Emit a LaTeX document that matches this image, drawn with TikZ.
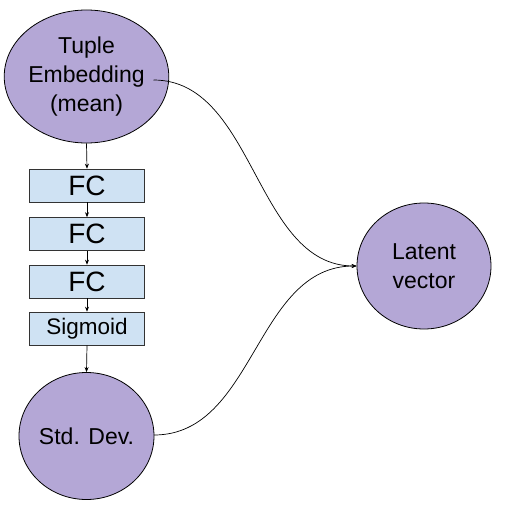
\documentclass[tikz,border=0pt]{standalone}
\usepackage{fontspec}
\setmainfont{Liberation Sans}
\usetikzlibrary{shapes.geometric,arrows.meta}
\definecolor{purp}{HTML}{B4A7D6}
\definecolor{lblue}{HTML}{CFE2F3}
\begin{document}
\begin{tikzpicture}[x=1pt,y=-1pt,
  blob/.style={ellipse,draw=black,line width=0.8pt,fill=purp,inner sep=0pt,align=center,font=\fontsize{23}{29}\selectfont},
  layer/.style={rectangle,draw=black!80,line width=0.6pt,fill=lblue,minimum width=115pt,minimum height=33pt,inner sep=0pt},
  arr/.style={-{Stealth[length=5pt,width=4pt]},line width=0.7pt}
]
\useasboundingbox (0,0) rectangle (507,511);
\node[blob,minimum width=134pt,minimum height=133pt] (te) at (86.5,76.5) {Tuple\\Embedding\\(mean)};
\node[layer,font=\fontsize{28}{30}\selectfont] (fc1) at (87,185.5) {FC};
\node[layer,font=\fontsize{28}{30}\selectfont] (fc2) at (87,234) {FC};
\node[layer,font=\fontsize{28}{30}\selectfont] (fc3) at (87,281.5) {FC};
\node[layer,font=\fontsize{22.5}{26}\selectfont] (sig) at (87,328.5) {Sigmoid};
\node[blob,minimum width=135pt,minimum height=127pt] (sd) at (86.5,436) {Std. Dev.};
\node[blob,minimum width=134pt,minimum height=126pt] (lv) at (424,266) {Latent\\vector};
\draw[arr] (te.south) -- (fc1.north);
\draw[arr] (fc1.south) -- (fc2.north);
\draw[arr] (fc2.south) -- (fc3.north);
\draw[arr] (fc3.south) -- (sig.north);
\draw[arr] (sig.south) -- (sd.north);
\coordinate (a) at (153.5,80);
\coordinate (b) at (154,435);
\draw[arr] (a) .. controls (255,80) and (255,266) .. (lv.west);
\draw[arr] (b) .. controls (255,435) and (255,266) .. (lv.west);
\end{tikzpicture}
\end{document}
